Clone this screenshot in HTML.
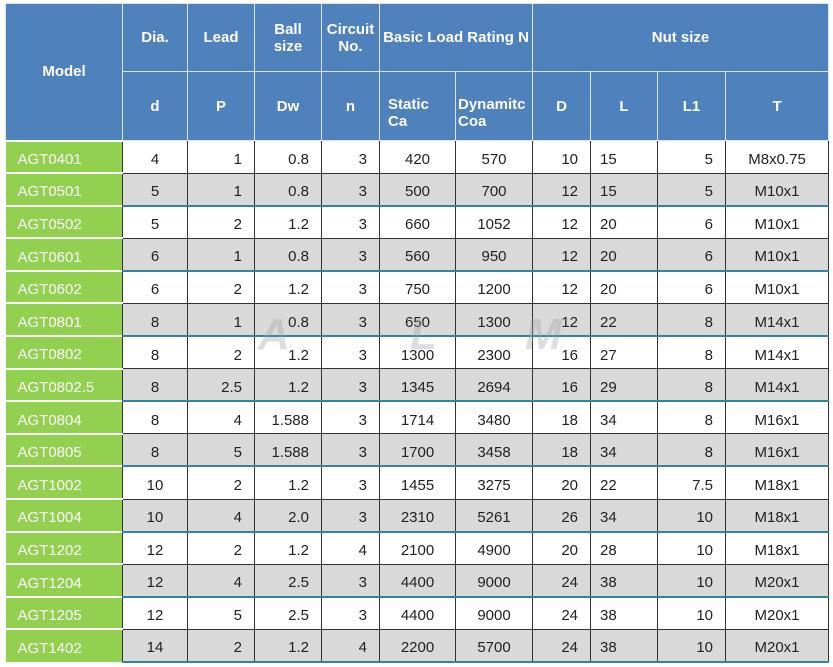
<!DOCTYPE html>
<html><head><meta charset="utf-8"><style>
body{margin:0;background:#fff;width:833px;height:667px;overflow:hidden;position:relative;font-family:"Liberation Sans","DejaVu Sans",sans-serif;}
table{position:absolute;left:5px;top:3px;border-collapse:collapse;table-layout:fixed;width:823px;}
th{background:#4f81bd;color:#fff;font-weight:bold;font-size:15px;border:1px solid #dce6f1;padding:0;vertical-align:middle;}
tr.d{height:32.6px}
td{font-size:15px;color:#222;border-left:1px solid #333;border-right:1px solid #333;border-top:1px solid #333;padding:5px 0 0 0;vertical-align:middle;}
td.m{background:#92d050;color:#fff;text-align:left;padding-left:12px;border:none;border-top:2px solid #fff;border-right:1px solid #333;}
tr.g td{background:#d9d9d9;border-bottom:2px solid #31859c;}
tr.g td.m{background:#92d050;border-bottom:none;}
.c{text-align:center}.r{text-align:right;padding-right:12px}.l{text-align:left;padding-left:9px}
.wm{position:absolute;top:310px;font-size:44px;font-weight:bold;font-style:italic;color:rgba(160,160,160,0.35)}
</style></head><body>
<table>
<colgroup><col style="width:117px"><col style="width:65px"><col style="width:67px"><col style="width:67px"><col style="width:58px"><col style="width:76px"><col style="width:77px"><col style="width:58px"><col style="width:67px"><col style="width:68px"><col style="width:103px"></colgroup>
<tr style="height:68px"><th rowspan="2">Model</th><th>Dia.</th><th>Lead</th><th>Ball<br>size</th><th>Circuit<br>No.</th><th colspan="2">Basic Load Rating N</th><th colspan="4">Nut size</th></tr>
<tr style="height:69px"><th>d</th><th>P</th><th>Dw</th><th>n</th><th style="text-align:left;padding-left:8px;padding-top:14px">Static<br>Ca</th><th style="text-align:left;padding-left:2px;padding-top:14px">Dynamitc<br>Coa</th><th>D</th><th>L</th><th>L1</th><th>T</th></tr>
<tr class="d"><td class="m">AGT0401</td><td class="c">4</td><td class="r">1</td><td class="r">0.8</td><td class="r">3</td><td class="c">420</td><td class="c">570</td><td class="r">10</td><td class="l">15</td><td class="r">5</td><td class="c">M8x0.75</td></tr>
<tr class="d g"><td class="m">AGT0501</td><td class="c">5</td><td class="r">1</td><td class="r">0.8</td><td class="r">3</td><td class="c">500</td><td class="c">700</td><td class="r">12</td><td class="l">15</td><td class="r">5</td><td class="c">M10x1</td></tr>
<tr class="d"><td class="m">AGT0502</td><td class="c">5</td><td class="r">2</td><td class="r">1.2</td><td class="r">3</td><td class="c">660</td><td class="c">1052</td><td class="r">12</td><td class="l">20</td><td class="r">6</td><td class="c">M10x1</td></tr>
<tr class="d g"><td class="m">AGT0601</td><td class="c">6</td><td class="r">1</td><td class="r">0.8</td><td class="r">3</td><td class="c">560</td><td class="c">950</td><td class="r">12</td><td class="l">20</td><td class="r">6</td><td class="c">M10x1</td></tr>
<tr class="d"><td class="m">AGT0602</td><td class="c">6</td><td class="r">2</td><td class="r">1.2</td><td class="r">3</td><td class="c">750</td><td class="c">1200</td><td class="r">12</td><td class="l">20</td><td class="r">6</td><td class="c">M10x1</td></tr>
<tr class="d g"><td class="m">AGT0801</td><td class="c">8</td><td class="r">1</td><td class="r">0.8</td><td class="r">3</td><td class="c">650</td><td class="c">1300</td><td class="r">12</td><td class="l">22</td><td class="r">8</td><td class="c">M14x1</td></tr>
<tr class="d"><td class="m">AGT0802</td><td class="c">8</td><td class="r">2</td><td class="r">1.2</td><td class="r">3</td><td class="c">1300</td><td class="c">2300</td><td class="r">16</td><td class="l">27</td><td class="r">8</td><td class="c">M14x1</td></tr>
<tr class="d g"><td class="m">AGT0802.5</td><td class="c">8</td><td class="r">2.5</td><td class="r">1.2</td><td class="r">3</td><td class="c">1345</td><td class="c">2694</td><td class="r">16</td><td class="l">29</td><td class="r">8</td><td class="c">M14x1</td></tr>
<tr class="d"><td class="m">AGT0804</td><td class="c">8</td><td class="r">4</td><td class="r">1.588</td><td class="r">3</td><td class="c">1714</td><td class="c">3480</td><td class="r">18</td><td class="l">34</td><td class="r">8</td><td class="c">M16x1</td></tr>
<tr class="d g"><td class="m">AGT0805</td><td class="c">8</td><td class="r">5</td><td class="r">1.588</td><td class="r">3</td><td class="c">1700</td><td class="c">3458</td><td class="r">18</td><td class="l">34</td><td class="r">8</td><td class="c">M16x1</td></tr>
<tr class="d"><td class="m">AGT1002</td><td class="c">10</td><td class="r">2</td><td class="r">1.2</td><td class="r">3</td><td class="c">1455</td><td class="c">3275</td><td class="r">20</td><td class="l">22</td><td class="r">7.5</td><td class="c">M18x1</td></tr>
<tr class="d g"><td class="m">AGT1004</td><td class="c">10</td><td class="r">4</td><td class="r">2.0</td><td class="r">3</td><td class="c">2310</td><td class="c">5261</td><td class="r">26</td><td class="l">34</td><td class="r">10</td><td class="c">M18x1</td></tr>
<tr class="d"><td class="m">AGT1202</td><td class="c">12</td><td class="r">2</td><td class="r">1.2</td><td class="r">4</td><td class="c">2100</td><td class="c">4900</td><td class="r">20</td><td class="l">28</td><td class="r">10</td><td class="c">M18x1</td></tr>
<tr class="d g"><td class="m">AGT1204</td><td class="c">12</td><td class="r">4</td><td class="r">2.5</td><td class="r">3</td><td class="c">4400</td><td class="c">9000</td><td class="r">24</td><td class="l">38</td><td class="r">10</td><td class="c">M20x1</td></tr>
<tr class="d"><td class="m">AGT1205</td><td class="c">12</td><td class="r">5</td><td class="r">2.5</td><td class="r">3</td><td class="c">4400</td><td class="c">9000</td><td class="r">24</td><td class="l">38</td><td class="r">10</td><td class="c">M20x1</td></tr>
<tr class="d g"><td class="m">AGT1402</td><td class="c">14</td><td class="r">2</td><td class="r">1.2</td><td class="r">4</td><td class="c">2200</td><td class="c">5700</td><td class="r">24</td><td class="l">38</td><td class="r">10</td><td class="c">M20x1</td></tr>
</table>
<div class="wm" style="left:258px">A</div>
<div class="wm" style="left:410px">L</div>
<div class="wm" style="left:525px">M</div>
</body></html>
